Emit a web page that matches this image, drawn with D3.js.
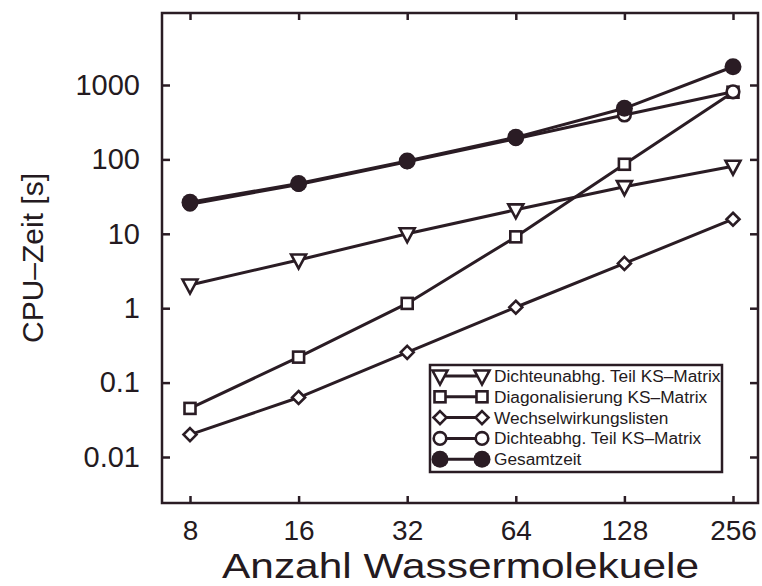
<!DOCTYPE html>
<html>
<head>
<meta charset="utf-8">
<script src="https://cdn.jsdelivr.net/npm/d3@7"></script>
<style>
  html, body { margin: 0; padding: 0; background: #fff; }
  svg { display: block; }
  text { font-family: "Liberation Sans", Arial, Helvetica, sans-serif; fill: #241a20; }
</style>
</head>
<body>
<svg id="chart" width="762" height="586"></svg>
<script>
// Number of water molecules (x) and CPU times in seconds (y)
const molecules = [8, 16, 32, 64, 128, 256];
const dichteunabhg = [2.05, 4.45, 10, 21, 43, 81];
const diagonalisierung = [0.045, 0.22, 1.16, 9.1, 86, 800];
const wechselwirkung = [0.020, 0.063, 0.255, 1.03, 4.0, 15.7];
const dichteabhg = [25, 46, 93, 190, 395, 810];
const gesamtzeit = [26.5, 47.5, 95, 198, 486, 1760];

const yTicks = [0.01, 0.1, 1, 10, 100, 1000];
const xTicks = [8, 16, 32, 64, 128, 256];

const seriesNames = [
  "Dichteunabhg. Teil KS\u2013Matrix",
  "Diagonalisierung KS\u2013Matrix",
  "Wechselwirkungslisten",
  "Dichteabhg. Teil KS\u2013Matrix",
  "Gesamtzeit"
];

const ink = "#2a1c24";
const svg = d3.select("#chart");

// Plot frame
const frame = { left: 162, right: 758, top: 13, bottom: 503 };

const x = d3.scaleLog().base(2).domain([8, 256]).range([190, 733]);
const y = d3.scaleLog().domain([0.01, 1000]).range([457, 85]);

// Axes with inward ticks on all four sides
const tickStyle = size => g => {
  g.select(".domain").remove();
  g.selectAll(".tick line").attr("stroke", ink).attr("stroke-width", 2.5);
  g.selectAll(".tick text").attr("fill", "#241a20").attr("font-size", size)
    .attr("font-family", "Liberation Sans, Arial, sans-serif");
};

svg.append("g").attr("transform", `translate(${frame.left},0)`)
  .call(d3.axisLeft(y).tickValues(yTicks).tickSize(-8).tickPadding(22)
    .tickFormat(d => String(d)))
  .call(tickStyle(29));

svg.append("g").attr("transform", `translate(${frame.right},0)`)
  .call(d3.axisRight(y).tickValues(yTicks).tickSize(-8).tickFormat(""))
  .call(tickStyle(29));

svg.append("g").attr("transform", `translate(0,${frame.bottom})`)
  .call(d3.axisBottom(x).tickValues(xTicks).tickSize(-7).tickPadding(17)
    .tickFormat(d => String(d)))
  .call(tickStyle(28));

svg.append("g").attr("transform", `translate(0,${frame.top})`)
  .call(d3.axisTop(x).tickValues(xTicks).tickSize(-7).tickFormat(""))
  .call(tickStyle(28));

svg.append("rect")
  .attr("x", frame.left).attr("y", frame.top)
  .attr("width", frame.right - frame.left).attr("height", frame.bottom - frame.top)
  .attr("fill", "none").attr("stroke", ink).attr("stroke-width", 2.5);

// Axis titles
svg.append("text")
  .attr("transform", `translate(32,258) rotate(-90)`)
  .attr("text-anchor", "middle").attr("dominant-baseline", "central")
  .attr("font-size", 30)
  .text("CPU\u2013Zeit [s]");

svg.append("text")
  .attr("x", 222).attr("y", 578)
  .attr("font-size", 35)
  .attr("textLength", 477).attr("lengthAdjust", "spacingAndGlyphs")
  .text("Anzahl Wassermolekuele");

// Marker shapes
const markerDraw = {
  tri: (g) => g.append("path").attr("d", "M-7.5,-5.5 L7.5,-5.5 L0,8.5 Z")
    .attr("fill", "#fff").attr("stroke", ink).attr("stroke-width", 2.6).attr("stroke-linejoin", "miter"),
  square: (g) => g.append("rect").attr("x", -5.5).attr("y", -5.5).attr("width", 11).attr("height", 11)
    .attr("fill", "#fff").attr("stroke", ink).attr("stroke-width", 2.6),
  diamond: (g) => g.append("path").attr("d", "M0,-6.5 L6.5,0 L0,6.5 L-6.5,0 Z")
    .attr("fill", "#fff").attr("stroke", ink).attr("stroke-width", 2.6),
  circle: (g) => g.append("circle").attr("r", 6.3)
    .attr("fill", "#fff").attr("stroke", ink).attr("stroke-width", 2.6),
  dot: (g) => g.append("circle").attr("r", 8.5).attr("fill", ink)
};

const series = [
  { name: seriesNames[0], values: dichteunabhg, marker: "tri" },
  { name: seriesNames[2], values: wechselwirkung, marker: "diamond" },
  { name: seriesNames[1], values: diagonalisierung, marker: "square" },
  { name: seriesNames[3], values: dichteabhg, marker: "circle" },
  { name: seriesNames[4], values: gesamtzeit, marker: "dot" }
];

const line = d3.line().x(d => x(d[0])).y(d => y(d[1]));

series.forEach(s => {
  const pts = molecules.map((m, i) => [m, s.values[i]]);
  const g = svg.append("g");
  g.append("path").datum(pts).attr("d", line)
    .attr("fill", "none").attr("stroke", ink).attr("stroke-width", 3);
  pts.forEach(p => {
    const mg = g.append("g").attr("transform", `translate(${x(p[0])},${y(p[1])})`);
    markerDraw[s.marker](mg);
  });
});

// Legend
const legend = { left: 430, top: 365, right: 722, bottom: 472 };
const legendOrder = [
  { name: seriesNames[0], marker: "tri" },
  { name: seriesNames[1], marker: "square" },
  { name: seriesNames[2], marker: "diamond" },
  { name: seriesNames[3], marker: "circle" },
  { name: seriesNames[4], marker: "dot" }
];

const lg = svg.append("g");
lg.append("rect")
  .attr("x", legend.left).attr("y", legend.top)
  .attr("width", legend.right - legend.left).attr("height", legend.bottom - legend.top)
  .attr("fill", "#fff").attr("stroke", ink).attr("stroke-width", 2.5);

legendOrder.forEach((d, i) => {
  const cy = 376 + i * 20.8;
  const row = lg.append("g");
  row.append("line").attr("x1", 440).attr("x2", 482).attr("y1", cy).attr("y2", cy)
    .attr("stroke", ink).attr("stroke-width", 3);
  [440, 482].forEach(cx => {
    const mg = row.append("g").attr("transform", `translate(${cx},${cy})`);
    markerDraw[d.marker](mg);
  });
  row.append("text").attr("x", 494).attr("y", cy).attr("dominant-baseline", "central")
    .attr("font-size", 17.3).text(d.name);
});
</script>
</body>
</html>
